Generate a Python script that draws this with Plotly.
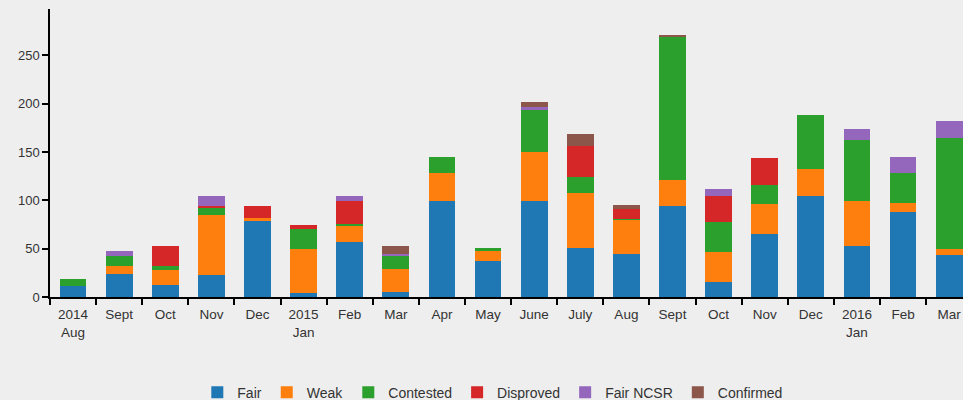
import plotly.graph_objects as go

months = ["2014<br>Aug", "Sept", "Oct", "Nov", "Dec", "2015<br>Jan", "Feb", "Mar", "Apr", "May",
          "June", "July", "Aug", "Sept", "Oct", "Nov", "Dec", "2016<br>Jan", "Feb", "Mar"]

fair = [11, 24, 12, 23, 79, 4, 57, 5, 99, 37, 99, 51, 44, 94, 16, 65, 104, 53, 88, 43]
weak = [0, 8, 16, 62, 3, 46, 16, 24, 29, 11, 51, 57, 36, 27, 31, 31, 28, 46, 9, 7]
contested = [8, 10, 4, 8, 0, 20, 3, 13, 17, 3, 43, 16, 1, 149, 31, 20, 56, 63, 31, 115]
disproved = [0, 0, 21, 1, 12, 5, 23, 0, 0, 0, 0, 32, 10, 0, 26, 28, 0, 0, 0, 0]
fair_ncsr = [0, 6, 0, 10, 0, 0, 5, 3, 0, 0, 4, 0, 0, 0, 8, 0, 0, 12, 17, 17]
confirmed = [0, 0, 0, 0, 0, 0, 0, 8, 0, 0, 5, 13, 4, 1, 0, 0, 0, 0, 0, 0]

series_names = ["Fair", "Weak", "Contested", "Disproved", "Fair NCSR", "Confirmed"]
series_values = [fair, weak, contested, disproved, fair_ncsr, confirmed]
colors = ["#1f77b4", "#ff7f0e", "#2ca02c", "#d62728", "#9467bd", "#8c564b"]

x = list(range(len(months)))

fig = go.Figure()
for name, vals, c in zip(series_names, series_values, colors):
    fig.add_trace(go.Bar(x=x, y=vals, name=name, marker=dict(color=c, line=dict(width=0))))

font_family = "Liberation Sans, Arial, sans-serif"
fig.update_layout(
    template="none",
    barmode="stack",
    bargap=0.42,
    width=963,
    height=400,
    margin=dict(l=50, r=0, t=9, b=103, autoexpand=False),
    paper_bgcolor="#eeeeee",
    plot_bgcolor="#eeeeee",
    font=dict(family=font_family, size=13, color="#333333"),
    showlegend=True,
    legend=dict(orientation="h", x=0.485, xanchor="center", y=-0.332, yanchor="middle",
                traceorder="normal", font=dict(size=14, color="#333333"),
                bgcolor="rgba(0,0,0,0)"),
    xaxis=dict(
        automargin=False,
        range=[-0.5, 19.3],
        tickmode="array", tickvals=x, ticktext=months,
        ticks="", showgrid=False, zeroline=False,
        showline=True, linecolor="black", linewidth=1.5,
        ticklabelstandoff=4,
        minor=dict(tick0=-0.5, dtick=1, ticks="outside", ticklen=6, tickcolor="black", tickwidth=1.5, showgrid=False),
        tickfont=dict(size=13.5, color="#333333"),
    ),
    yaxis=dict(
        automargin=False,
        range=[0, 298],
        tickmode="array", tickvals=[0, 50, 100, 150, 200, 250],
        ticks="outside", ticklen=6, tickcolor="black", tickwidth=1.5,
        showgrid=False, zeroline=False,
        showline=True, linecolor="black", linewidth=1.5,
        tickfont=dict(size=13, color="#333333"),
    ),
)

fig.write_html(
    "out.html",
    config={"displayModeBar": False},
    post_script="document.body.style.margin='0';document.body.style.background='#eeeeee';",
)
